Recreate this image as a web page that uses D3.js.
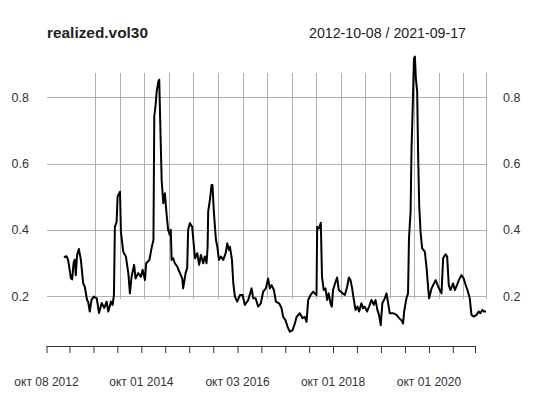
<!DOCTYPE html>
<html>
<head>
<meta charset="utf-8">
<script src="https://cdn.jsdelivr.net/npm/d3@7"></script>
<style>
  body { margin: 0; background: #fff; }
  text { font-family: "Liberation Sans", Arial, sans-serif; }
</style>
</head>
<body>
<script>
// realized vol series (date, value)
var volDates = [
  "2013-02-11","2013-03-02","2013-03-14","2013-04-04","2013-04-13","2013-04-24","2013-05-03","2013-05-10",
  "2013-05-20","2013-06-02","2013-06-17","2013-07-04","2013-07-16","2013-08-02","2013-08-10","2013-08-22",
  "2013-09-04","2013-09-21","2013-10-13","2013-10-30","2013-11-19","2013-12-08","2013-12-26","2014-01-07",
  "2014-01-27","2014-02-08","2014-02-18","2014-02-25","2014-03-10","2014-03-17","2014-04-04","2014-04-11",
  "2014-04-28","2014-05-18","2014-06-05","2014-06-17","2014-06-29","2014-07-18","2014-07-29","2014-08-17",
  "2014-09-07","2014-09-19","2014-10-07","2014-10-16","2014-11-09","2014-11-27","2014-12-09","2014-12-15",
  "2014-12-25","2015-01-02","2015-01-14","2015-01-21","2015-01-31","2015-02-08","2015-02-20","2015-03-04",
  "2015-03-16","2015-03-28","2015-04-10","2015-04-17","2015-04-23","2015-05-05","2015-05-17","2015-06-04",
  "2015-06-24","2015-07-11","2015-07-18","2015-08-05","2015-08-17","2015-08-24","2015-09-06","2015-09-23",
  "2015-10-14","2015-10-31","2015-11-14","2015-11-27","2015-12-14","2015-12-26","2016-01-08","2016-01-16",
  "2016-01-20","2016-02-02","2016-02-14","2016-02-21","2016-03-03","2016-03-18","2016-03-28","2016-04-09",
  "2016-04-24","2016-05-11","2016-05-29","2016-06-10","2016-06-23","2016-06-30","2016-07-15","2016-07-25",
  "2016-08-06","2016-08-23","2016-09-13","2016-10-02","2016-10-19","2016-11-13","2016-12-08","2016-12-20",
  "2017-01-07","2017-01-26","2017-02-15","2017-03-04","2017-03-24","2017-04-10","2017-04-23","2017-05-06",
  "2017-05-23","2017-06-07","2017-07-01","2017-07-19","2017-07-31","2017-08-17","2017-09-02","2017-09-19",
  "2017-10-09","2017-10-26","2017-11-08","2017-12-02","2017-12-22","2018-01-08","2018-01-21","2018-02-02",
  "2018-02-20","2018-03-11","2018-03-23","2018-04-05","2018-04-10","2018-04-24","2018-05-07","2018-05-16",
  "2018-05-29","2018-06-11","2018-06-23","2018-07-05","2018-07-18","2018-07-28","2018-08-06","2018-08-21",
  "2018-09-05","2018-09-18","2018-10-16","2018-11-02","2018-11-19","2018-12-02","2018-12-14","2018-12-26",
  "2019-01-08","2019-01-20","2019-02-04","2019-02-16","2019-03-05","2019-03-17","2019-03-30","2019-04-16",
  "2019-05-01","2019-05-19","2019-06-05","2019-06-18","2019-07-02","2019-07-14","2019-07-27","2019-08-08",
  "2019-08-26","2019-09-08","2019-09-20","2019-10-02","2019-10-27","2019-11-21","2019-12-11","2019-12-28",
  "2020-01-09","2020-01-17","2020-02-03","2020-02-15","2020-02-22","2020-03-05","2020-03-12","2020-03-20",
  "2020-03-30","2020-04-06","2020-04-13","2020-04-23","2020-04-30","2020-05-08","2020-05-18","2020-05-30",
  "2020-06-19","2020-07-02","2020-07-14","2020-07-21","2020-08-08","2020-08-20","2020-09-07","2020-09-22",
  "2020-10-08","2020-10-21","2020-11-02","2020-11-20","2020-12-02","2020-12-14","2020-12-27","2021-01-15",
  "2021-01-28","2021-02-13","2021-02-27","2021-03-18","2021-04-04","2021-04-19","2021-05-02","2021-05-19",
  "2021-06-01","2021-06-18","2021-07-08","2021-07-25","2021-08-06","2021-08-21","2021-09-02","2021-09-17"
];
var volValues = [
  0.317,0.320,0.309,0.254,0.250,0.300,0.310,0.263,
  0.324,0.342,0.309,0.239,0.228,0.188,0.183,0.153,
  0.188,0.198,0.193,0.149,0.179,0.164,0.183,0.153,
  0.183,0.173,0.203,0.409,0.424,0.500,0.515,0.394,
  0.334,0.319,0.269,0.208,0.258,0.294,0.253,0.269,
  0.258,0.279,0.248,0.299,0.309,0.349,0.369,0.742,
  0.777,0.817,0.847,0.853,0.681,0.550,0.480,0.510,
  0.450,0.400,0.384,0.400,0.309,0.314,0.299,0.289,
  0.269,0.253,0.223,0.269,0.284,0.400,0.420,0.409,
  0.314,0.329,0.294,0.324,0.299,0.319,0.299,0.349,
  0.455,0.490,0.535,0.535,0.450,0.369,0.349,0.309,
  0.319,0.309,0.329,0.359,0.339,0.349,0.309,0.238,
  0.198,0.183,0.203,0.203,0.173,0.188,0.223,0.193,
  0.193,0.168,0.178,0.213,0.223,0.253,0.223,0.233,
  0.218,0.183,0.178,0.163,0.137,0.127,0.107,0.092,
  0.097,0.117,0.137,0.148,0.133,0.137,0.122,0.188,
  0.203,0.213,0.208,0.203,0.409,0.404,0.421,0.258,
  0.218,0.223,0.188,0.208,0.178,0.168,0.218,0.238,
  0.256,0.218,0.208,0.203,0.228,0.256,0.248,0.223,
  0.188,0.158,0.168,0.153,0.178,0.163,0.168,0.153,
  0.168,0.188,0.173,0.188,0.158,0.143,0.112,0.178,
  0.193,0.208,0.178,0.148,0.148,0.143,0.133,0.127,
  0.117,0.153,0.193,0.208,0.374,0.455,0.646,0.757,
  0.918,0.923,0.858,0.817,0.626,0.475,0.394,0.344,
  0.334,0.284,0.223,0.193,0.223,0.233,0.248,0.233,
  0.218,0.208,0.314,0.326,0.319,0.233,0.218,0.238,
  0.218,0.233,0.248,0.263,0.253,0.233,0.218,0.193,
  0.143,0.138,0.143,0.153,0.148,0.158,0.153,0.153
];

var startDate = "2012-10-08";
var endDate = "2021-09-17";
var title = "realized.vol30";
var rangeText = "2012-10-08 / 2021-09-17";

var xTickDates = [
  "2012-10-08","2013-04-01","2013-10-01","2014-04-01","2014-10-01","2015-04-01","2015-10-01",
  "2016-04-01","2016-10-03","2017-04-03","2017-10-02","2018-04-02","2018-10-01","2019-04-01",
  "2019-10-01","2020-04-01","2020-10-01","2021-04-01","2021-09-17"
];
var xLabelDates = ["2012-10-08","2014-10-01","2016-10-03","2018-10-01","2020-10-01"];
var xLabels = ["окт 08 2012","окт 01 2014","окт 03 2016","окт 01 2018","окт 01 2020"];
var yTicks = [0.2, 0.4, 0.6, 0.8];

var width = 534, height = 395;
var parse = d3.timeParse("%Y-%m-%d");

var data = volDates.map(function(d, i) {
  return { date: parse(d), value: volValues[i] };
});

var svg = d3.select("body").append("svg")
  .attr("width", width)
  .attr("height", height);

var x = d3.scaleTime()
  .domain([parse(startDate), parse(endDate)])
  .range([47, 486]);

// the bottom axis in the original is drawn a bit narrower than the panel
var xAxisScale = d3.scaleTime()
  .domain([parse(startDate), parse(endDate)])
  .range([46.5, 475]);

var y = d3.scaleLinear()
  .domain([0.2, 0.8])
  .range([296, 97.3]);

var gridColor = "#b0b0b0";

// horizontal grid
svg.append("g").selectAll("line")
  .data(yTicks)
  .enter().append("line")
  .attr("x1", 47).attr("x2", 486)
  .attr("y1", function(d) { return Math.round(y(d)) + 0.5; })
  .attr("y2", function(d) { return Math.round(y(d)) + 0.5; })
  .attr("stroke", gridColor)
  .attr("stroke-width", 1);

// vertical grid (starts at the third tick)
svg.append("g").selectAll("line")
  .data(xTickDates.slice(2))
  .enter().append("line")
  .attr("x1", function(d) { return Math.round(x(parse(d))) + 0.5; })
  .attr("x2", function(d) { return Math.round(x(parse(d))) + 0.5; })
  .attr("y1", 73).attr("y2", 299)
  .attr("stroke", gridColor)
  .attr("stroke-width", 1);

// series
var line = d3.line()
  .x(function(d) { return x(d.date); })
  .y(function(d) { return y(d.value); });

svg.append("path")
  .datum(data)
  .attr("d", line)
  .attr("fill", "none")
  .attr("stroke", "#000")
  .attr("stroke-width", 2)
  .attr("stroke-linejoin", "round");

// bottom axis
var xAxis = d3.axisBottom(xAxisScale)
  .tickValues(xTickDates.map(parse))
  .tickSize(7)
  .tickSizeOuter(0)
  .tickFormat("");

var gx = svg.append("g")
  .attr("transform", "translate(0,346)")
  .call(xAxis);
gx.select(".domain").attr("stroke", "#333");
gx.selectAll(".tick line").attr("stroke", "#333");

svg.append("g").selectAll("text")
  .data(xLabelDates)
  .enter().append("text")
  .attr("x", function(d) { return xAxisScale(parse(d)); })
  .attr("y", 386)
  .attr("text-anchor", "middle")
  .attr("font-size", 12)
  .attr("fill", "#333")
  .text(function(d, i) { return xLabels[i]; });

// y labels, both sides
var yFmt = d3.format(".1f");
svg.append("g").selectAll("text")
  .data(yTicks)
  .enter().append("text")
  .attr("x", 29)
  .attr("y", function(d) { return y(d) + 4.5; })
  .attr("text-anchor", "end")
  .attr("font-size", 12.5)
  .attr("fill", "#333")
  .text(yFmt);

svg.append("g").selectAll("text")
  .data(yTicks)
  .enter().append("text")
  .attr("x", 503)
  .attr("y", function(d) { return y(d) + 4.5; })
  .attr("text-anchor", "start")
  .attr("font-size", 12.5)
  .attr("fill", "#333")
  .text(yFmt);

// titles
svg.append("text")
  .attr("x", 47)
  .attr("y", 38)
  .attr("font-size", 15.4)
  .attr("font-weight", "bold")
  .attr("fill", "#222")
  .text(title);

svg.append("text")
  .attr("x", 466)
  .attr("y", 38)
  .attr("text-anchor", "end")
  .attr("font-size", 14.2)
  .attr("fill", "#222")
  .text(rangeText);
</script>
</body>
</html>
